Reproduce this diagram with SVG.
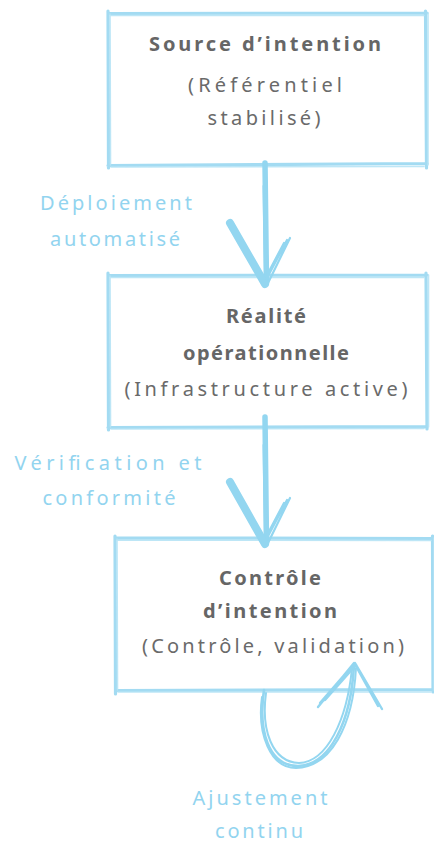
<svg xmlns="http://www.w3.org/2000/svg" width="434" height="845" viewBox="0 0 434 845">
  <style>
    .box { fill: none; stroke: #a3dbf2; stroke-width: 3.2; stroke-linecap: round; stroke-linejoin: round; }
    .box2 { fill: none; stroke: #b6e3f5; stroke-width: 1.6; stroke-linecap: round; opacity: 0.9; }
    .edge { fill: none; stroke: #93d6f0; stroke-linecap: round; stroke-linejoin: round; }
    .title { font-family: "Noto Sans", "DejaVu Sans", sans-serif; font-size: 20px; font-weight: 700; fill: #666666; text-anchor: middle; dominant-baseline: central; }
    .sub { font-family: "Noto Sans", "DejaVu Sans", sans-serif; font-size: 20px; font-weight: 400; fill: #6a6a6a; text-anchor: middle; dominant-baseline: central; }
    .lbl { font-family: "Noto Sans", "DejaVu Sans", sans-serif; font-size: 20px; font-weight: 400; fill: #92d4ef; text-anchor: middle; dominant-baseline: central; }
  </style>

  <!-- Node: source of intent -->
  <g id="source-intention">
    <path class="box" d="M108,13.5 L427,13 M425.5,11 L426.5,168 M427,163.5 L108,165.5 M108.5,168 L108,11"/>
    <path class="box2" d="M110,15.5 L424,15.5 M428,13 L428,165 M424,166.5 L111,167 M110.5,165 L110,14"/>
    <text class="title" x="265" y="43" textLength="232" lengthAdjust="spacing">Source d’intention</text>
    <text class="sub" x="265" y="84" textLength="154" lengthAdjust="spacing">(Référentiel</text>
    <text class="sub" x="264" y="117" textLength="113" lengthAdjust="spacing">stabilisé)</text>
  </g>

  <!-- Node: operational reality -->
  <g id="realite-operationnelle">
    <path class="box" d="M108,275.5 L427,275 M426,273 L427,429 M427,426.5 L108,427.5 M108.5,430 L108,273"/>
    <path class="box2" d="M110,277.5 L424,277.5 M428.5,275 L428.5,427 M424,428.5 L111,429 M110.5,427 L110,276"/>
    <text class="title" x="266" y="315" textLength="80" lengthAdjust="spacing">Réalité</text>
    <text class="title" x="266" y="352" textLength="166" lengthAdjust="spacing">opérationnelle</text>
    <text class="sub" x="266" y="388" textLength="283" lengthAdjust="spacing">(Infrastructure active)</text>
  </g>

  <!-- Node: intent control -->
  <g id="controle-intention">
    <path class="box" d="M115,538 L433,538.5 M432.5,536 L433,692 M433,689.5 L117,690.5 M115.5,694 L115,536"/>
    <path class="box2" d="M117,540 L431,540.5 M434,538 L434,690 M431,692 L118,692 M117.5,690 L117,539"/>
    <text class="title" x="270" y="577" textLength="102" lengthAdjust="spacing">Contrôle</text>
    <text class="title" x="270" y="610" textLength="134" lengthAdjust="spacing">d’intention</text>
    <text class="sub" x="273" y="645" textLength="262" lengthAdjust="spacing">(Contrôle, validation)</text>
  </g>

  <!-- Connectors -->
  <g id="connectors">
    <!-- deployment arrow -->
    <path class="edge" stroke-width="5.5" d="M265,163 L266.5,283"/>
    <path class="edge" stroke-width="3" d="M264,186 L265.5,280"/>
    <path class="edge" stroke-width="8" d="M230,223 L265,284"/>
    <path class="edge" stroke-width="2.2" d="M290,238 L268,283 M287,240 L266,280 M284,243 L266,277"/>

    <!-- verification arrow -->
    <path class="edge" stroke-width="5.5" d="M265,417 L266.5,543"/>
    <path class="edge" stroke-width="3" d="M264,445 L265.5,540"/>
    <path class="edge" stroke-width="8" d="M230,482 L265,544"/>
    <path class="edge" stroke-width="2.2" d="M290,498 L268,543 M287,500 L266,540 M284,503 L266,537"/>

    <!-- continuous adjustment loop -->
    <path class="edge" stroke-width="2.6" d="M264,690 C258,730 268,766 298,766 C330,765 351,722 354,665"/>
    <path class="edge" stroke-width="2" d="M266,693 C261,730 272,762 299,763 C327,762 347,720 352,668"/>
    <path class="edge" stroke-width="2" d="M262,697 C257,733 270,768 296,768 C331,767 353,726 356,668"/>
    <path class="edge" stroke-width="2.4" d="M354,663 L318,707 M352,666 L320,703 M356,665 L325,700"/>
    <path class="edge" stroke-width="2.4" d="M355,663 L382,709 M357,668 L378,706"/>

    <text class="lbl" x="116" y="202" textLength="152" lengthAdjust="spacing">Déploiement</text>
    <text class="lbl" x="115" y="238" textLength="130" lengthAdjust="spacing">automatisé</text>
    <text class="lbl" x="108" y="462" textLength="187" lengthAdjust="spacing">Vérification et</text>
    <text class="lbl" x="109" y="497" textLength="133" lengthAdjust="spacing">conformité</text>
    <text class="lbl" x="260" y="797" textLength="135" lengthAdjust="spacing">Ajustement</text>
    <text class="lbl" x="259" y="830" textLength="88" lengthAdjust="spacing">continu</text>
  </g>
</svg>
